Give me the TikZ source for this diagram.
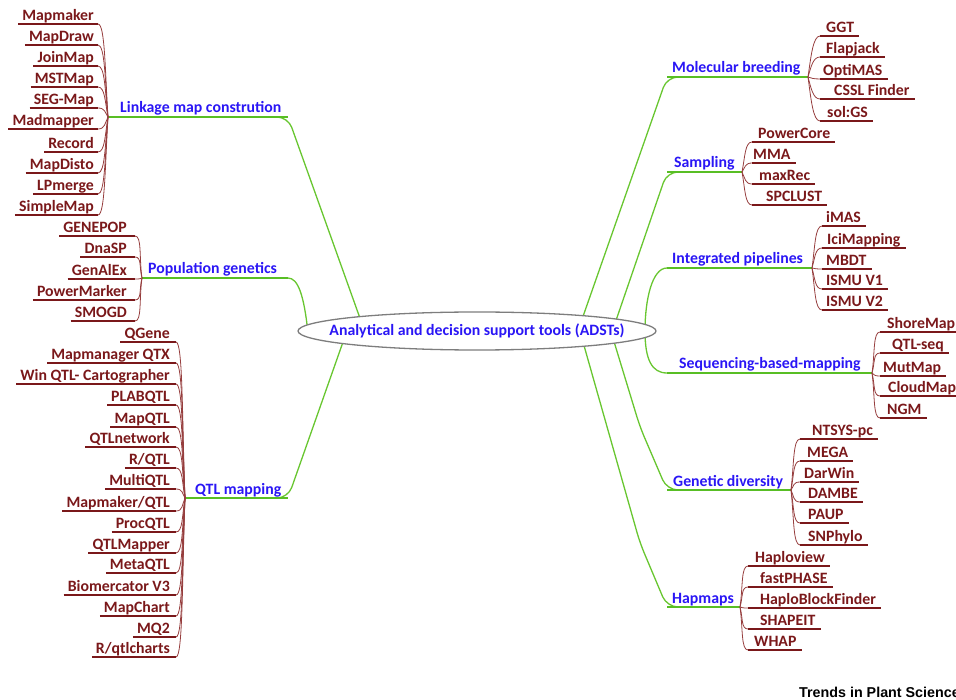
\documentclass[tikz,border=0pt]{standalone}
\usepackage{fontspec}
\setmainfont{Carlito}
\newfontfamily\trendsfont{Liberation Sans}
\usetikzlibrary{calc}
\definecolor{leafc}{RGB}{122,24,26}
\definecolor{twigc}{RGB}{150,62,62}
\definecolor{branchc}{RGB}{42,22,245}
\definecolor{greenc}{RGB}{104,198,48}
\definecolor{greenk}{RGB}{88,190,36}
\definecolor{ellc}{RGB}{125,125,125}
\tikzset{
  leaf/.style={font=\bfseries\fontsize{15.8}{18}\selectfont, text=leafc, inner sep=0pt},
  branch/.style={font=\bfseries\fontsize{15.8}{18}\selectfont, text=branchc, inner sep=0pt, anchor=base west},
  uline/.style={draw=leafc, line width=1.4pt},
  twig/.style={draw=twigc, line width=0.8pt},
  gthin/.style={draw=greenc, line width=1.3pt, rounded corners=11pt},
  gthick/.style={draw=greenk, line width=2.8pt},
}
% prefix, hub x, hub y, text right x, underline right x, list text/y
\newcommand\leftgroup[6]{%
  \coordinate (#1hub) at (#2,#3);
  \foreach \lbl/\yy [count=\i] in {#6}{%
    \node[leaf, anchor=base east] (#1\i) at (#4,\yy-3.5) {\lbl};
    \coordinate (#1\i-e) at (#5,\yy);
    \draw[uline] ($(#1\i.base west)+(-4,3.5)$) -- (#1\i-e);
    \draw[twig] (#1\i-e) .. controls ($(#1\i-e)+(7,0)$) and ($(#2,#3)+(-3,{(\yy-#3)*0.5})$) .. (#1hub);
  }%
}
% prefix, hub x, hub y, underline left x, list text/y/textx
\newcommand\rightgroup[5]{%
  \coordinate (#1hub) at (#2,#3);
  \foreach \lbl/\yy/\xx [count=\i] in {#5}{%
    \node[leaf, anchor=base west] (#1\i) at (\xx,\yy-3.5) {\lbl};
    \coordinate (#1\i-s) at (#4,\yy);
    \draw[uline] (#1\i-s) -- ($(#1\i.base east)+(5,3.5)$);
    \draw[twig] (#1hub) .. controls ($(#2,#3)+(3,{(\yy-#3)*0.5})$) and ($(#1\i-s)+(-7,0)$) .. (#1\i-s);
  }%
}
\begin{document}
\begin{tikzpicture}[x=1pt,y=-1pt]
\useasboundingbox (0,0) rectangle (956,700);
\clip (0,0) rectangle (956,700);

% corners of the main branches
\coordinate (cLink) at (288,117);
\coordinate (cPop) at (288,278);
\coordinate (cQTL) at (288,498);
\coordinate (cMol) at (667,77);
\coordinate (cSam) at (667,172);
\coordinate (cInt) at (667,268);
\coordinate (cSeq) at (667,373);
\coordinate (cGen) at (667,490);
\coordinate (cHap) at (667,607);
% ends under the central ellipse
\coordinate (eLink) at (366,335);
\coordinate (ePop) at (308,333);
\coordinate (eQTL) at (349,325);
\coordinate (eMol) at (580,325);
\coordinate (eSam) at (611,335);
\coordinate (eIS) at (645,331);
\coordinate (eGen) at (612,335);
\coordinate (eHap) at (581,335);

% thin green connectors
\draw[gthin] (270,117) -- (cLink) -- (eLink);
\draw[draw=greenc, line width=1.3pt] (cPop) .. controls (298,278) and (304,295) .. (ePop);
\draw[gthin] (270,498) -- (cQTL) -- (eQTL);
\draw[gthin] (685,77) -- (cMol) -- (eMol);
\draw[gthin] (685,172) -- (cSam) -- (eSam);
\draw[draw=greenc, line width=1.3pt] (cInt) .. controls (652,268) and (645,300) .. (eIS);
\draw[draw=greenc, line width=1.3pt] (cSeq) .. controls (652,373) and (645,360) .. (eIS);
\draw[gthin] (685,490) -- (cGen) -- (640,427) -- (eGen);
\draw[gthin] (685,607) -- (cHap) -- (640,543) -- (eHap);

% central node
\coordinate (rootc) at (477,331);
\draw[draw=ellc, fill=white, line width=1.3pt] (rootc) ellipse [x radius=179, y radius=19];
\node[inner sep=0pt, font=\bfseries\fontsize{15.8}{18}\selectfont, text=branchc] (root) at (rootc)
      {Analytical and decision support tools (ADSTs)};

% thick green branch lines
\draw[gthick] (108,117) -- (cLink);
\draw[gthick] (142,278) -- (cPop);
\draw[gthick] (185,498) -- (cQTL);
\draw[gthick] (cMol) -- (808,77);
\draw[gthick] (cSam) -- (742,172);
\draw[gthick] (cInt) -- (812,268);
\draw[gthick] (cSeq) -- (872,373);
\draw[gthick] (cGen) -- (791,490);
\draw[gthick] (cHap) -- (740,607);

% branch labels
\node[branch] (bLink) at (120,113) {Linkage map constrution};
\node[branch] (bPop) at (148,274) {Population genetics};
\node[branch] (bQTL) at (195,494) {QTL mapping};
\node[branch] (bMol) at (672,73) {Molecular breeding};
\node[branch] (bSam) at (674,168) {Sampling};
\node[branch] (bInt) at (672,264) {Integrated pipelines};
\node[branch] (bSeq) at (679,369) {Sequencing-based-mapping};
\node[branch] (bGen) at (673,486) {Genetic diversity};
\node[branch] (bHap) at (672,603) {Hapmaps};

% leaves
\leftgroup{lk}{108}{117}{94}{98}{Mapmaker/24, MapDraw/45, JoinMap/66, MSTMap/87, SEG-Map/108, Madmapper/129, Record/152, MapDisto/173, LPmerge/194, SimpleMap/215}
\leftgroup{pg}{142}{278}{127}{135}{GENEPOP/236, DnaSP/257, GenAlEx/279, PowerMarker/300, SMOGD/321}
\leftgroup{qt}{185}{498}{170}{176}{QGene/342, Mapmanager QTX/363, Win QTL- Cartographer/384, PLABQTL/405, MapQTL/427, QTLnetwork/447, {R/QTL}/468, MultiQTL/489, {Mapmaker/QTL}/511, ProcQTL/532, QTLMapper/553, MetaQTL/573, Biomercator V3/595, MapChart/616, MQ2/637, {R/qtlcharts}/657}

\rightgroup{mb}{808}{77}{820}{GGT/36/826, Flapjack/57/826, OptiMAS/79/823, CSSL Finder/99/834, sol:GS/121/827}
\rightgroup{sa}{742}{172}{752}{PowerCore/142/758, MMA/163/753, maxRec/184/759, SPCLUST/205/766}
\rightgroup{ip}{812}{268}{822}{iMAS/226/826, IciMapping/248/827, MBDT/269/826, ISMU V1/289/826, ISMU V2/310/826}
\rightgroup{sq}{872}{373}{880}{ShoreMap/332/887, QTL-seq/353/892, MutMap/376/883, CloudMap/396/888, NGM/418/887}
\rightgroup{gd}{791}{490}{800}{NTSYS-pc/439/812, MEGA/461/807, DarWin/482/804, DAMBE/502/808, PAUP/523/808, SNPhylo/545/808}
\rightgroup{hm}{740}{607}{748}{Haploview/566/755, fastPHASE/587/760, HaploBlockFinder/608/760, SHAPEIT/629/760, WHAP/650/754}

\node[font=\trendsfont\bfseries\fontsize{14.3}{16}\selectfont, anchor=base west, inner sep=0pt] (trends) at (799,697) {Trends in Plant Science};
\end{tikzpicture}
\end{document}
